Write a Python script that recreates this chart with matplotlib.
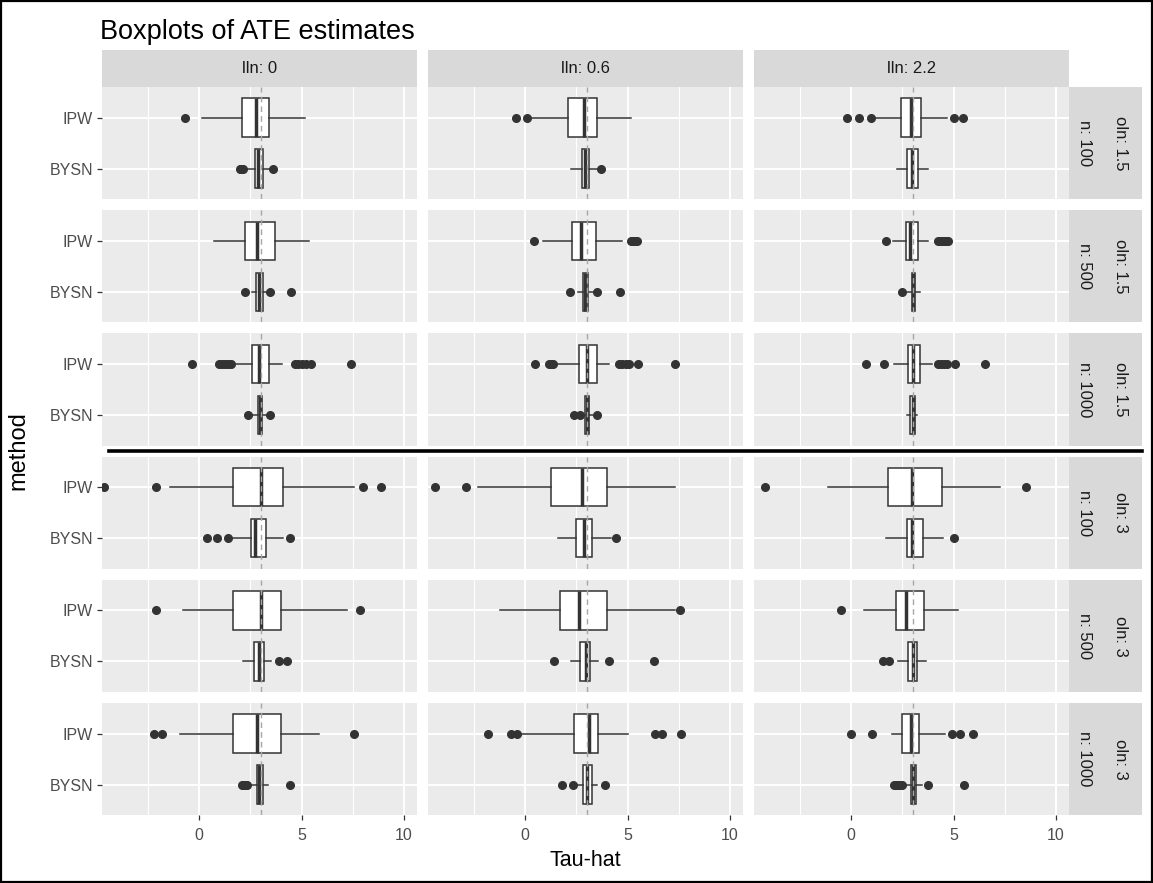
import matplotlib
matplotlib.use("Agg")
import matplotlib.pyplot as plt
from matplotlib.patches import Rectangle
from matplotlib.lines import Line2D

# ---------------- data (row-major: rows = (oln, n), cols = lln) ----------------
col_labels = ["lln: 0", "lln: 0.6", "lln: 2.2"]
row_n_labels = ["n: 100", "n: 500", "n: 1000", "n: 100", "n: 500", "n: 1000"]
row_oln_labels = ["oln: 1.5", "oln: 1.5", "oln: 1.5", "oln: 3", "oln: 3", "oln: 3"]
methods = ["BYSN", "IPW"]
true_ate = 3.0
x_ticks = [0, 5, 10]

ipw_whislo = [0.16, 0.35, 1.11, 0.74, 0.85, 2.03, 1.72, 1.49, 2.08,
              -1.44, -2.33, -1.13, -0.81, -1.24, 0.62, -0.95, -0.2, 2.0]
ipw_q1 = [2.09, 2.09, 2.43, 2.22, 2.29, 2.68, 2.58, 2.61, 2.75,
          1.67, 1.24, 1.80, 1.67, 1.68, 2.17, 1.65, 2.4, 2.5]
ipw_med = [2.76, 2.87, 2.91, 2.83, 2.71, 2.89, 2.92, 3.03, 3.01,
           3.02, 2.76, 2.99, 3.02, 2.64, 2.70, 2.8, 3.1, 2.9]
ipw_q3 = [3.42, 3.49, 3.40, 3.71, 3.48, 3.27, 3.41, 3.50, 3.35,
          4.09, 4.01, 4.43, 4.00, 4.01, 3.54, 4.0, 3.55, 3.3]
ipw_whishi = [5.17, 5.18, 4.66, 5.34, 4.72, 3.77, 4.02, 4.07, 3.93,
              7.58, 7.34, 7.27, 7.22, 7.3, 5.23, 5.85, 5.0, 4.6]
ipw_fliers = [
    [-0.69],
    [-0.47, 0.07],
    [-0.2, 0.37, 0.95, 5.03, 5.44],
    [],
    [0.41, 5.15, 5.25, 5.35, 5.45],
    [1.72, 4.25, 4.35, 4.45, 4.55, 4.65, 4.75],
    [-0.33, 0.95, 1.1, 1.25, 1.4, 1.55, 4.7, 4.85, 5.0, 5.2, 5.45, 7.42],
    [0.49, 1.15, 1.25, 1.35, 4.6, 4.75, 4.9, 5.05, 5.5, 7.34],
    [0.73, 1.59, 4.25, 4.4, 4.55, 4.7, 5.07, 6.54],
    [-4.66, -2.12, 8.01, 8.86],
    [-4.41, -2.9],
    [-4.2, 8.54],
    [-2.12, 7.84],
    [7.55],
    [-0.48],
    [-2.2, -1.8, 7.55],
    [-1.8, -0.7, -0.4, 6.35, 6.7, 7.6],
    [0.0, 1.0, 4.9, 5.3, 5.95],
]

bysn_whislo = [2.3, 2.25, 2.22, 2.6, 2.6, 2.68, 2.6, 2.75, 2.72,
               1.67, 1.6, 1.71, 2.15, 2.25, 2.3, 2.57, 2.5, 2.6]
bysn_q1 = [2.74, 2.76, 2.74, 2.79, 2.81, 2.96, 2.87, 2.9, 2.88,
           2.53, 2.46, 2.74, 2.7, 2.7, 2.75, 2.81, 2.84, 2.92]
bysn_med = [2.87, 2.94, 2.99, 2.9, 2.93, 3.02, 2.97, 3.0, 3.0,
            2.73, 2.87, 2.99, 2.9, 2.95, 3.0, 2.93, 3.0, 3.02]
bysn_q3 = [3.12, 3.13, 3.26, 3.12, 3.09, 3.12, 3.07, 3.11, 3.12,
           3.27, 3.28, 3.5, 3.15, 3.15, 3.2, 3.14, 3.24, 3.18]
bysn_whishi = [3.45, 3.52, 3.77, 3.28, 3.33, 3.37, 3.35, 3.3, 3.2,
               4.09, 4.17, 4.46, 3.5, 3.55, 3.65, 3.35, 3.5, 3.46]
bysn_fliers = [
    [1.97, 2.05, 2.12, 3.61],
    [3.72],
    [],
    [2.22, 3.48, 4.5],
    [2.21, 3.49, 4.63],
    [2.47],
    [2.38, 3.48],
    [2.36, 2.68, 3.49],
    [],
    [0.36, 0.88, 1.39, 4.45],
    [4.43],
    [5.0],
    [3.9, 4.3],
    [1.4, 4.1, 6.3],
    [1.55, 1.85],
    [2.08, 2.15, 2.22, 2.32, 4.45],
    [1.78, 2.35, 3.92],
    [2.09, 2.2, 2.3, 2.4, 2.47, 3.77, 5.5],
]

# ---------------- layout ----------------
W, H = 1153, 883
plt.rcParams['font.family'] = ['Liberation Sans', 'DejaVu Sans']
fig = plt.figure(figsize=(W / 100, H / 100), dpi=100)
fig.patch.set_facecolor('white')


def rect(x0, y0, x1, y1):
    return [x0 / W, 1 - y1 / H, (x1 - x0) / W, (y1 - y0) / H]


col_left = [102, 428, 754]
col_w = 315
row_top = [87 + i * 123.2 for i in range(6)]
row_h = 112.2
strip_right = 1142
XLIM = (-4.75, 10.64)

TXT = '#4D4D4D'
DARK = '#333333'

for r in range(6):
    for c in range(3):
        i = r * 3 + c
        x0 = col_left[c]
        y0 = row_top[r]
        ax = fig.add_axes(rect(x0, y0, x0 + col_w, y0 + row_h))
        ax.set_facecolor('#EBEBEB')
        for s in ax.spines.values():
            s.set_visible(False)
        for gx in (-2.5, 2.5, 7.5):
            ax.axvline(gx, color='white', lw=0.8, zorder=0)
        for gx in x_ticks:
            ax.axvline(gx, color='white', lw=1.4, zorder=0)
        for gy in (1, 2):
            ax.axhline(gy, color='white', lw=1.4, zorder=0)

        stats = [
            dict(whislo=bysn_whislo[i], q1=bysn_q1[i], med=bysn_med[i],
                 q3=bysn_q3[i], whishi=bysn_whishi[i], fliers=bysn_fliers[i]),
            dict(whislo=ipw_whislo[i], q1=ipw_q1[i], med=ipw_med[i],
                 q3=ipw_q3[i], whishi=ipw_whishi[i], fliers=ipw_fliers[i]),
        ]
        ax.bxp(stats, positions=[1, 2], widths=0.75, orientation='horizontal',
               patch_artist=True, showcaps=False,
               boxprops=dict(facecolor='white', edgecolor=DARK, linewidth=1.1),
               medianprops=dict(color=DARK, linewidth=2.5),
               whiskerprops=dict(color=DARK, linewidth=1.1),
               flierprops=dict(marker='o', markerfacecolor=DARK,
                               markeredgecolor=DARK, markersize=5.5))
        ax.axvline(true_ate, color='#A6A6A6', lw=1.0, ls=(0, (4, 3)), zorder=6)

        ax.set_xlim(*XLIM)
        ax.set_ylim(0.4, 2.6)
        ax.set_xticks(x_ticks)
        ax.set_yticks([1, 2])
        ax.tick_params(axis='both', length=3.5, width=0.9, color=DARK,
                       labelcolor=TXT, labelsize=11.5)
        ax.tick_params(axis='x', pad=5.5)
        ax.tick_params(axis='y', pad=3)
        if c == 0:
            ax.set_yticklabels(methods)
        else:
            ax.tick_params(axis='y', left=False, labelleft=False)
        if r == 5:
            ax.set_xticklabels([str(t) for t in x_ticks])
        else:
            ax.tick_params(axis='x', bottom=False, labelbottom=False)

# top strips
for c in range(3):
    x0 = col_left[c]
    sax = fig.add_axes(rect(x0, 50, x0 + col_w, 87))
    sax.set_facecolor('#D9D9D9')
    sax.set_xticks([]); sax.set_yticks([])
    for s in sax.spines.values():
        s.set_visible(False)
    sax.text(0.5, 0.5, col_labels[c], ha='center', va='center',
             fontsize=12, color='#1A1A1A', transform=sax.transAxes)

# right strips
for r in range(6):
    y0 = row_top[r]
    sax = fig.add_axes(rect(col_left[2] + col_w, y0, strip_right, y0 + row_h))
    sax.set_facecolor('#D9D9D9')
    sax.set_xticks([]); sax.set_yticks([])
    for s in sax.spines.values():
        s.set_visible(False)
    sax.text(0.21, 0.5, row_n_labels[r], ha='center', va='center', rotation=270,
             fontsize=12, color='#1A1A1A', transform=sax.transAxes)
    sax.text(0.71, 0.5, row_oln_labels[r], ha='center', va='center', rotation=270,
             fontsize=12, color='#1A1A1A', transform=sax.transAxes)

# titles
fig.text(100 / W, 1 - 32 / H, "Boxplots of ATE estimates", ha='left', va='center',
         fontsize=19.5, color='black')
fig.text(18 / W, 1 - 451 / H, "method", ha='center', va='center', rotation=90,
         fontsize=17, color='black')
fig.text(585 / W, 1 - 861 / H, "Tau-hat", ha='center', va='center',
         fontsize=15.5, color='black')

# separator line between oln groups
fig.add_artist(Line2D([109 / W, 1142 / W], [1 - 451 / H, 1 - 451 / H],
                      color='black', lw=2.6, transform=fig.transFigure))
# outer border
fig.add_artist(Rectangle((0.001, 0.001), 0.998, 0.998, transform=fig.transFigure,
                         fill=False, edgecolor='black', lw=1.6))

fig.savefig("out.png", dpi=100)
